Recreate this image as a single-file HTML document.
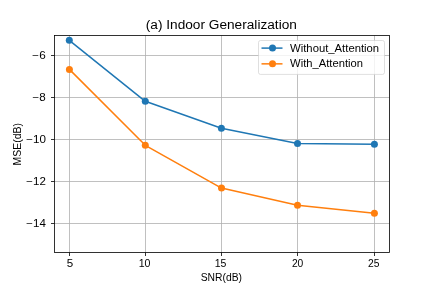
<!DOCTYPE html><html><head><meta charset="utf-8"><style>html,body{margin:0;padding:0;background:#fff;width:432px;height:288px;overflow:hidden}svg{display:block}text{font-family:"Liberation Sans",sans-serif;fill:#000}svg{will-change:transform}</style></head><body><svg width="432" height="288" viewBox="0 0 432 288"><rect x="0" y="0" width="432" height="288" fill="#fff"/><line x1="69.5" y1="35.5" x2="69.5" y2="252.5" stroke="#b0b0b0" stroke-width="0.8"/><line x1="145.5" y1="35.5" x2="145.5" y2="252.5" stroke="#b0b0b0" stroke-width="0.8"/><line x1="221.5" y1="35.5" x2="221.5" y2="252.5" stroke="#b0b0b0" stroke-width="0.8"/><line x1="297.5" y1="35.5" x2="297.5" y2="252.5" stroke="#b0b0b0" stroke-width="0.8"/><line x1="374.5" y1="35.5" x2="374.5" y2="252.5" stroke="#b0b0b0" stroke-width="0.8"/><line x1="54.5" y1="55.5" x2="389.5" y2="55.5" stroke="#b0b0b0" stroke-width="0.8"/><line x1="54.5" y1="97.5" x2="389.5" y2="97.5" stroke="#b0b0b0" stroke-width="0.8"/><line x1="54.5" y1="139.5" x2="389.5" y2="139.5" stroke="#b0b0b0" stroke-width="0.8"/><line x1="54.5" y1="181.5" x2="389.5" y2="181.5" stroke="#b0b0b0" stroke-width="0.8"/><line x1="54.5" y1="223.5" x2="389.5" y2="223.5" stroke="#b0b0b0" stroke-width="0.8"/><polyline points="69.3,40.3 145.3,101.3 221.4,128.3 297.5,143.4 374.4,144.3" fill="none" stroke="#1f77b4" stroke-width="1.5" stroke-linejoin="round"/><circle cx="69.3" cy="40.3" r="3.5" fill="#1f77b4"/><circle cx="145.3" cy="101.3" r="3.5" fill="#1f77b4"/><circle cx="221.4" cy="128.3" r="3.5" fill="#1f77b4"/><circle cx="297.5" cy="143.4" r="3.5" fill="#1f77b4"/><circle cx="374.4" cy="144.3" r="3.5" fill="#1f77b4"/><polyline points="69.4,69.4 145.3,145.3 221.5,188.1 297.5,205.2 374.4,213.2" fill="none" stroke="#ff7f0e" stroke-width="1.5" stroke-linejoin="round"/><circle cx="69.4" cy="69.4" r="3.5" fill="#ff7f0e"/><circle cx="145.3" cy="145.3" r="3.5" fill="#ff7f0e"/><circle cx="221.5" cy="188.1" r="3.5" fill="#ff7f0e"/><circle cx="297.5" cy="205.2" r="3.5" fill="#ff7f0e"/><circle cx="374.4" cy="213.2" r="3.5" fill="#ff7f0e"/><rect x="54.5" y="35.5" width="335.0" height="217.0" fill="none" stroke="#000" stroke-width="0.8"/><line x1="69.5" y1="252.5" x2="69.5" y2="256.0" stroke="#000" stroke-width="0.8"/><line x1="145.5" y1="252.5" x2="145.5" y2="256.0" stroke="#000" stroke-width="0.8"/><line x1="221.5" y1="252.5" x2="221.5" y2="256.0" stroke="#000" stroke-width="0.8"/><line x1="297.5" y1="252.5" x2="297.5" y2="256.0" stroke="#000" stroke-width="0.8"/><line x1="374.5" y1="252.5" x2="374.5" y2="256.0" stroke="#000" stroke-width="0.8"/><line x1="54.5" y1="55.5" x2="51.0" y2="55.5" stroke="#000" stroke-width="0.8"/><line x1="54.5" y1="97.5" x2="51.0" y2="97.5" stroke="#000" stroke-width="0.8"/><line x1="54.5" y1="139.5" x2="51.0" y2="139.5" stroke="#000" stroke-width="0.8"/><line x1="54.5" y1="181.5" x2="51.0" y2="181.5" stroke="#000" stroke-width="0.8"/><line x1="54.5" y1="223.5" x2="51.0" y2="223.5" stroke="#000" stroke-width="0.8"/><text x="66.82" y="266.60" font-size="10" textLength="6.45" lengthAdjust="spacingAndGlyphs">5</text><text x="138.73" y="266.60" font-size="10" textLength="11.78" lengthAdjust="spacingAndGlyphs">10</text><text x="214.78" y="266.60" font-size="10" textLength="11.67" lengthAdjust="spacingAndGlyphs">15</text><text x="291.92" y="266.60" font-size="10" textLength="11.40" lengthAdjust="spacingAndGlyphs">20</text><text x="368.06" y="266.60" font-size="10" textLength="11.47" lengthAdjust="spacingAndGlyphs">25</text><text x="32.32" y="58.90" font-size="10" textLength="13.36" lengthAdjust="spacingAndGlyphs">−6</text><text x="32.56" y="100.90" font-size="10" textLength="13.24" lengthAdjust="spacingAndGlyphs">−8</text><text x="26.33" y="142.90" font-size="10" textLength="19.72" lengthAdjust="spacingAndGlyphs">−10</text><text x="26.33" y="184.90" font-size="10" textLength="19.57" lengthAdjust="spacingAndGlyphs">−12</text><text x="26.33" y="226.90" font-size="10" textLength="19.58" lengthAdjust="spacingAndGlyphs">−14</text><text x="145.81" y="28.70" font-size="12" textLength="151.08" lengthAdjust="spacingAndGlyphs">(a) Indoor Generalization</text><text x="200.67" y="280.75" font-size="10" textLength="41.33" lengthAdjust="spacingAndGlyphs">SNR(dB)</text><text transform="translate(21.30,165.52) rotate(-90)" x="0" y="0" font-size="10" textLength="42.44" lengthAdjust="spacingAndGlyphs">MSE(dB)</text><rect x="258.5" y="40.5" width="126" height="33.9" rx="2" ry="2" fill="#fff" fill-opacity="0.8" stroke="#cccccc" stroke-opacity="0.8" stroke-width="0.8"/><line x1="261.5" y1="48.1" x2="282.5" y2="48.1" stroke="#1f77b4" stroke-width="1.5"/><circle cx="272.5" cy="48.1" r="3.5" fill="#1f77b4"/><text x="290.09" y="51.90" font-size="10" textLength="89.04" lengthAdjust="spacingAndGlyphs">Without_Attention</text><line x1="261.5" y1="63.85" x2="282.5" y2="63.85" stroke="#ff7f0e" stroke-width="1.5"/><circle cx="272.5" cy="63.85" r="3.5" fill="#ff7f0e"/><text x="290.09" y="67.10" font-size="10" textLength="72.89" lengthAdjust="spacingAndGlyphs">With_Attention</text></svg></body></html>
